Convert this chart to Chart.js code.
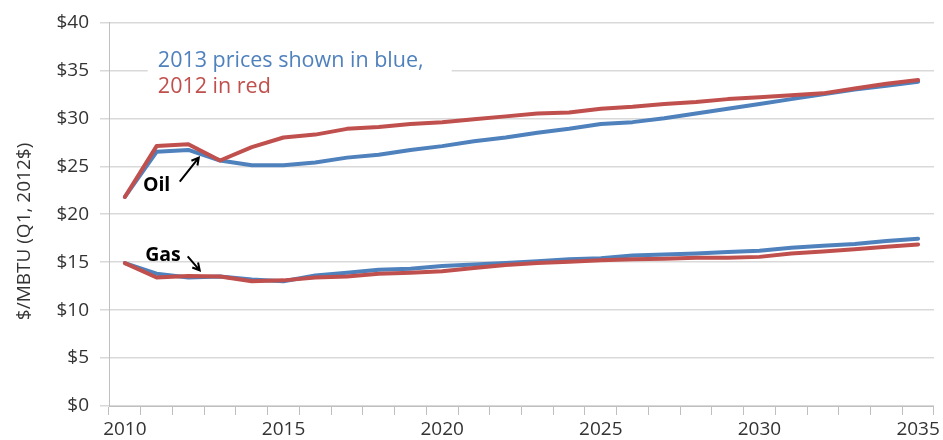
<!DOCTYPE html>
<html>
<head>
<meta charset="utf-8">
<script src="https://cdn.jsdelivr.net/npm/chart.js@4.4.1/dist/chart.umd.min.js"></script>
<style>
  html, body { margin: 0; padding: 0; background: #fff; }
  #wrap { width: 943px; height: 440px; position: relative; }
</style>
</head>
<body>
<div id="wrap"><canvas id="chart"></canvas></div>
<script>
// years on the category axis
const years = ["2010", "2011", "2012", "2013", "2014", "2015", "2016", "2017", "2018",
  "2019", "2020", "2021", "2022", "2023", "2024", "2025", "2026", "2027", "2028",
  "2029", "2030", "2031", "2032", "2033", "2034", "2035"];

// $/MBTU, Q1 2012 dollars
const oil2013 = [21.8, 26.5, 26.7, 25.6, 25.1, 25.1, 25.4, 25.9, 26.2, 26.7, 27.1, 27.6, 28.0,
  28.5, 28.9, 29.4, 29.6, 30.0, 30.5, 31.0, 31.5, 32.0, 32.5, 33.0, 33.4, 33.8];
const oil2012 = [21.8, 27.1, 27.3, 25.6, 27.0, 28.0, 28.3, 28.9, 29.1, 29.4, 29.6, 29.9, 30.2,
  30.5, 30.6, 31.0, 31.2, 31.5, 31.7, 32.0, 32.2, 32.4, 32.6, 33.1, 33.6, 34.0];
const gas2013 = [14.9, 13.8, 13.4, 13.5, 13.2, 13.0, 13.6, 13.9, 14.2, 14.3, 14.6, 14.75, 14.9,
  15.1, 15.3, 15.4, 15.7, 15.8, 15.9, 16.05, 16.2, 16.5, 16.7, 16.9, 17.2, 17.45];
const gas2012 = [14.9, 13.4, 13.55, 13.5, 13.0, 13.1, 13.4, 13.5, 13.8, 13.9, 14.05, 14.4, 14.7,
  14.9, 15.05, 15.2, 15.3, 15.35, 15.45, 15.45, 15.55, 15.9, 16.1, 16.35, 16.6, 16.85];

// y axis tick values
const yTicks = [0, 5, 10, 15, 20, 25, 30, 35, 40];

const BLUE = "#4f81bd";
const RED = "#c0504d";
const FONT = "'Open Sans', 'Liberation Sans', sans-serif";

// text box, labels and arrows placed in data units
const notes = {
  box: { x0: 0.72, x1: 10.3, y0: 38.1, y1: 31.9 },
  line1: { text: "2013 prices shown in blue,", x: 1.04, y: 35.4, color: BLUE },
  line2: { text: "2012 in red", x: 1.04, y: 32.6, color: RED },
  oil: { text: "Oil", x: 1.0, y: 23.0, from: [1.73, 23.4], to: [2.33, 25.9] },
  gas: { text: "Gas", x: 1.2, y: 15.7, from: [1.98, 15.6], to: [2.36, 14.15] },
  yTitle: { text: "$/MBTU (Q1, 2012$)", px: 25, y: 18.2 }
};

// white box behind the legend text goes under the lines, over the grid
const boxPlugin = {
  id: "noteBox",
  beforeDatasetsDraw(chart) {
    const { ctx, scales: { x, y } } = chart;
    const b = notes.box;
    const left = x.getPixelForValue(b.x0), right = x.getPixelForValue(b.x1);
    const top = y.getPixelForValue(b.y0), bottom = y.getPixelForValue(b.y1);
    ctx.save();
    ctx.fillStyle = "#fff";
    ctx.fillRect(left, top, right - left, bottom - top);
    ctx.restore();
  }
};

function arrow(ctx, x0, y0, x1, y1) {
  const a = Math.atan2(y1 - y0, x1 - x0);
  const h = 8;
  ctx.beginPath();
  ctx.moveTo(x0, y0);
  ctx.lineTo(x1, y1);
  ctx.moveTo(x1 - h * Math.cos(a - 0.5), y1 - h * Math.sin(a - 0.5));
  ctx.lineTo(x1, y1);
  ctx.lineTo(x1 - h * Math.cos(a + 0.5), y1 - h * Math.sin(a + 0.5));
  ctx.stroke();
}

const notePlugin = {
  id: "notes",
  afterDraw(chart) {
    const { ctx, scales: { x, y } } = chart;
    ctx.save();
    ctx.textBaseline = "alphabetic";
    ctx.font = "21.5px " + FONT;
    [notes.line1, notes.line2].forEach(l => {
      ctx.fillStyle = l.color;
      ctx.textAlign = "left";
      ctx.fillText(l.text, x.getPixelForValue(l.x), y.getPixelForValue(l.y));
    });

    ctx.font = "bold 19.5px " + FONT;
    ctx.fillStyle = "#000";
    ctx.strokeStyle = "#000";
    ctx.lineWidth = 2;
    ctx.textAlign = "center";
    ctx.textBaseline = "middle";
    [notes.oil, notes.gas].forEach(n => {
      ctx.fillText(n.text, x.getPixelForValue(n.x), y.getPixelForValue(n.y));
      arrow(ctx, x.getPixelForValue(n.from[0]), y.getPixelForValue(n.from[1]),
        x.getPixelForValue(n.to[0]), y.getPixelForValue(n.to[1]));
    });

    // axis title
    const t = notes.yTitle;
    ctx.translate(t.px, y.getPixelForValue(t.y));
    ctx.rotate(-Math.PI / 2);
    ctx.font = "19px " + FONT;
    ctx.fillStyle = "#333";
    ctx.fillText(t.text, 0, 0);
    ctx.restore();
  }
};

const line = (data, color) => ({
  data,
  borderColor: color,
  backgroundColor: color,
  borderWidth: 4,
  pointRadius: 0,
  tension: 0,
  borderJoinStyle: "round",
  borderCapStyle: "round"
});

new Chart(document.getElementById("chart"), {
  type: "line",
  data: {
    labels: years,
    // red drawn last so it sits on top
    datasets: [line(oil2012, RED), line(gas2012, RED), line(oil2013, BLUE), line(gas2013, BLUE)]
  },
  options: {
    responsive: true,
    maintainAspectRatio: false,
    animation: false,
    layout: { padding: { top: 22, right: 8, left: 0, bottom: 0 } },
    plugins: { legend: { display: false }, tooltip: { enabled: false } },
    scales: {
      x: {
        type: "category",
        offset: true,
        grid: { offset: true, drawOnChartArea: false, color: "#bfbfbf", tickLength: 9, lineWidth: 1 },
        border: { color: "#bfbfbf", width: 1 },
        ticks: {
          autoSkip: false,
          maxRotation: 0,
          padding: 3,
          color: "#333",
          font: { family: FONT, size: 19 },
          callback: (v, i) => (Number(years[i]) % 5 === 0 ? years[i] : "")
        },
        afterFit: s => { s.height = 34; }
      },
      y: {
        min: 0,
        max: 40,
        afterBuildTicks: s => { s.ticks = yTicks.map(v => ({ value: v })); },
        grid: { color: "#d9d9d9", lineWidth: 1.5, tickLength: 9 },
        border: { color: "#bfbfbf", width: 1 },
        ticks: {
          padding: 11,
          color: "#333",
          font: { family: FONT, size: 19 },
          callback: v => "$" + v
        },
        afterFit: s => { s.width = 109; }
      }
    }
  },
  plugins: [boxPlugin, notePlugin]
});
</script>
</body>
</html>
